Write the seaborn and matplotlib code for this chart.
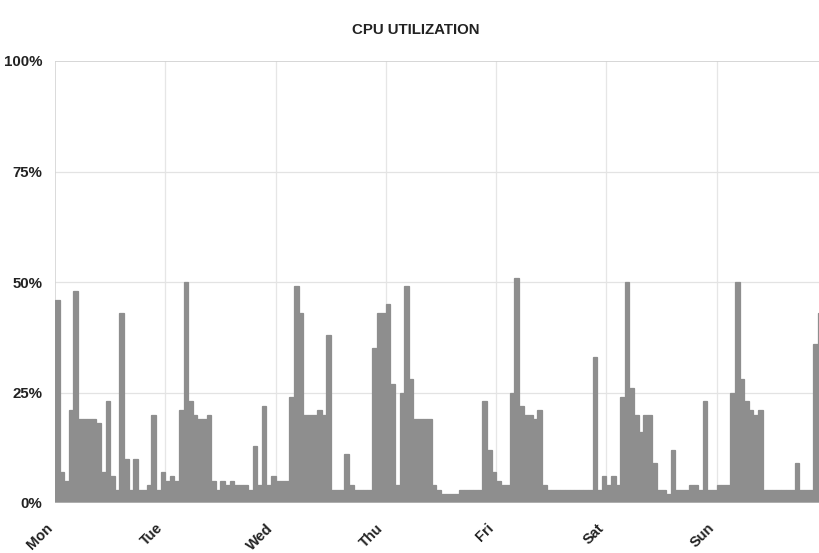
import numpy as np
import pandas as pd
import matplotlib
matplotlib.use("Agg")
import matplotlib.pyplot as plt
import seaborn as sns

# Hourly CPU utilisation (%), one list per day, 24 hours each
mon = [46, 7, 5, 21, 48, 19, 19, 19, 19, 18, 7, 23, 6, 3, 43, 10, 3, 10, 3, 3, 4, 20, 3, 7]
tue = [5, 6, 5, 21, 50, 23, 20, 19, 19, 20, 5, 3, 5, 4, 5, 4, 4, 4, 3, 13, 4, 22, 4, 6]
wed = [5, 5, 5, 24, 49, 43, 20, 20, 20, 21, 20, 38, 3, 3, 3, 11, 4, 3, 3, 3, 3, 35, 43, 43]
thu = [45, 27, 4, 25, 49, 28, 19, 19, 19, 19, 4, 3, 2, 2, 2, 2, 3, 3, 3, 3, 3, 23, 12, 7]
fri = [5, 4, 4, 25, 51, 22, 20, 20, 19, 21, 4, 3, 3, 3, 3, 3, 3, 3, 3, 3, 3, 33, 3, 6]
sat = [4, 6, 4, 24, 50, 26, 20, 16, 20, 20, 9, 3, 3, 2, 12, 3, 3, 3, 4, 4, 3, 23, 3, 3]
sun = [4, 4, 4, 25, 50, 28, 23, 21, 20, 21, 3, 3, 3, 3, 3, 3, 3, 9, 3, 3, 3, 36, 43, 40]

day_labels = ["Mon", "Tue", "Wed", "Thu", "Fri", "Sat", "Sun"]
y_ticks = [0, 25, 50, 75, 100]
y_tick_labels = ["0%", "25%", "50%", "75%", "100%"]

usage = mon + tue + wed + thu + fri + sat + sun
hours = list(range(len(usage)))
df = pd.DataFrame({"hour": hours, "cpu": usage})

sns.set_theme(style="white")
plt.rcParams["font.family"] = ["Liberation Sans", "DejaVu Sans"]

W, H = 820, 553
fig = plt.figure(figsize=(W / 100, H / 100), dpi=100)
# axes run slightly past the right edge of the canvas
left_px, bottom_px = 55, 50
width_px = 24 * 7 * 4.595
height_px = 442
ax = fig.add_axes([left_px / W, bottom_px / H, width_px / W, height_px / H])

bar_color = "#8e8e8e"
sns.barplot(data=df, x="hour", y="cpu", color=bar_color, width=1.0,
            saturation=1, linewidth=0.9, edgecolor=bar_color, ax=ax, zorder=3)

n = len(usage)
ax.set_xlim(-0.5, n - 0.5)
ax.set_ylim(0, 100)

# grid: day boundaries and quarter levels
day_pos = [-0.5 + 24 * d for d in range(7)]
for x in day_pos[1:] + [n - 0.5]:
    ax.axvline(x, color="#e6e6e6", lw=0.9, zorder=1)
for y in [25, 50, 75]:
    ax.axhline(y, color="#e3e3e3", lw=0.9, zorder=1)
ax.axhline(100, color="#cfcfcf", lw=1.2, zorder=1)
ax.axvline(-0.5, color="#d4d4d4", lw=1.2, zorder=1)
ax.axhline(0, color="#b5b5b5", lw=1.2, zorder=4)

for s in ax.spines.values():
    s.set_visible(False)

ax.set_xlabel("")
ax.set_ylabel("")
ax.set_yticks(y_ticks)
ax.set_yticklabels(y_tick_labels, fontsize=10.8, fontweight="bold", color="#222222")
ax.set_xticks(day_pos)
ax.set_xticklabels(day_labels, rotation=45, ha="right", fontsize=10.5,
                   fontweight="bold", color="#222222")
ax.tick_params(axis="y", length=0, pad=9)
ax.tick_params(axis="x", length=0, pad=13)

fig.text(416 / W, 1 - 30 / H, "CPU UTILIZATION", ha="center", va="center",
         fontsize=10.8, fontweight="bold", color="#222222")

fig.savefig("out.png", dpi=100)
